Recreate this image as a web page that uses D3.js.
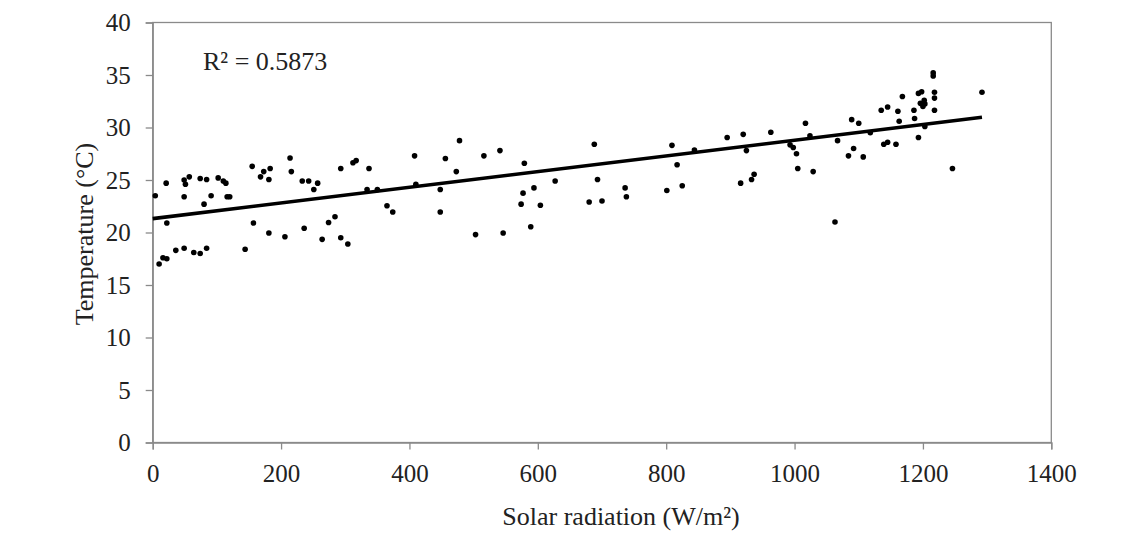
<!DOCTYPE html>
<html>
<head>
<meta charset="utf-8">
<script src="https://cdn.jsdelivr.net/npm/d3@7"></script>
<style>
  html, body { margin: 0; padding: 0; background: #fff; }
  svg { display: block; }
  text { font-family: "Liberation Serif", "Times New Roman", serif; fill: #222; }
</style>
</head>
<body>
<svg id="chart" width="1139" height="535"></svg>
<script>
// Solar radiation (W/m²)
const radiation = [4,21,22,10,16,22,36,49,49,51,49,57,64,74,84,74,84,80,91,102,110,114,116,120,144,155,157,168,173,183,181,181,206,214,216,233,243,257,251,236,264,274,284,293,304,293,312,317,337,334,350,365,374,408,410,448,448,456,473,478,503,516,541,546,574,579,577,594,589,604,627,688,693,680,700,736,738,801,809,817,825,844,895,920,925,916,933,937,963,993,998,1003,1005,1017,1024,1029,1063,1067,1089,1100,1092,1084,1107,1118,1135,1145,1139,1145,1158,1161,1163,1168,1186,1187,1193,1198,1196,1200,1202,1203,1193,1203,1216,1216,1218,1218,1218,1246,1292];
// Temperature (°C)
const temperature = [23.5,24.7,20.9,17.0,17.6,17.5,18.3,18.5,25.0,24.6,23.4,25.3,18.1,18.0,18.5,25.15,25.05,22.7,23.5,25.2,24.9,24.7,23.4,23.4,18.4,26.3,20.9,25.3,25.8,26.1,25.05,19.95,19.6,27.1,25.8,24.9,24.9,24.7,24.1,20.4,19.35,20.95,21.5,19.5,18.9,26.1,26.65,26.85,26.1,24.1,24.1,22.55,21.95,27.3,24.6,24.1,21.95,27.05,25.8,28.75,19.8,27.3,27.8,19.95,22.7,26.6,23.75,24.25,20.55,22.6,24.9,28.4,25.05,22.9,23.0,24.25,23.4,24.0,28.3,26.45,24.45,27.85,29.05,29.35,27.8,24.7,25.05,25.55,29.55,28.35,28.1,27.5,26.1,30.4,29.2,25.8,21.0,28.75,30.75,30.4,28.0,27.3,27.2,29.5,31.65,31.95,28.4,28.6,28.4,31.55,30.6,32.95,31.65,30.85,33.25,33.4,32.3,32.0,32.6,32.25,29.05,30.1,35.2,34.9,33.35,32.8,31.65,26.1,33.35];
// Linear trend line
const trendX = [0, 1292];
const trendY = [21.32, 30.97];
const xTicks = [0,200,400,600,800,1000,1200,1400];
const yTicks = [0,5,10,15,20,25,30,35,40];
const r2Label = "R² = 0.5873";
const xTitle = "Solar radiation (W/m²)";
const yTitle = "Temperature (°C)";

const svg = d3.select("#chart");
const pLeft = 152.7, pRight = 1051.3, pTop = 22.5, pBottom = 442.5;
const x = d3.scaleLinear().domain([0,1400]).range([pLeft,pRight]);
const y = d3.scaleLinear().domain([0,40]).range([pBottom,pTop]);
const axisColor = "#8a8a8a";

// frame
svg.append("rect").attr("x",pLeft).attr("y",pTop).attr("width",pRight-pLeft).attr("height",pBottom-pTop)
  .attr("fill","none").attr("stroke",axisColor).attr("stroke-width",1.3);

const gx = svg.append("g").attr("transform",`translate(0,${pBottom})`)
  .call(d3.axisBottom(x).tickValues(xTicks).tickSize(7).tickPadding(15).tickFormat(d3.format("d")));
const gy = svg.append("g").attr("transform",`translate(${pLeft},0)`)
  .call(d3.axisLeft(y).tickValues(yTicks).tickSize(7).tickPadding(15).tickFormat(d3.format("d")));
[gx,gy].forEach(g=>{
  g.select(".domain").attr("stroke",axisColor).attr("stroke-width",1.3);
  g.selectAll(".tick line").attr("stroke",axisColor).attr("stroke-width",1.3);
  g.selectAll(".tick text").attr("font-size",25).attr("fill","#222")
    .attr("font-family","'Liberation Serif', 'Times New Roman', serif");
});

// points
const pts = radiation.map((r,i)=>({x:r,y:temperature[i]}));
svg.append("g").selectAll("circle").data(pts).join("circle")
  .attr("cx",d=>x(d.x)).attr("cy",d=>y(d.y)).attr("r",2.8).attr("fill","#000");

// trend line
const line = d3.line().x(d=>x(d[0])).y(d=>y(d[1]));
svg.append("path").datum(trendX.map((v,i)=>[v,trendY[i]]))
  .attr("d",line).attr("fill","none").attr("stroke","#000").attr("stroke-width",3.6);

// R² label
svg.append("text").attr("x",203).attr("y",70).attr("font-size",26).text(r2Label);

// axis titles
svg.append("text").attr("x",621).attr("y",525).attr("text-anchor","middle").attr("font-size",26).text(xTitle);
svg.append("text").attr("transform","translate(93,234) rotate(-90)").attr("text-anchor","middle")
  .attr("font-size",26).text(yTitle);
</script>
</body>
</html>
